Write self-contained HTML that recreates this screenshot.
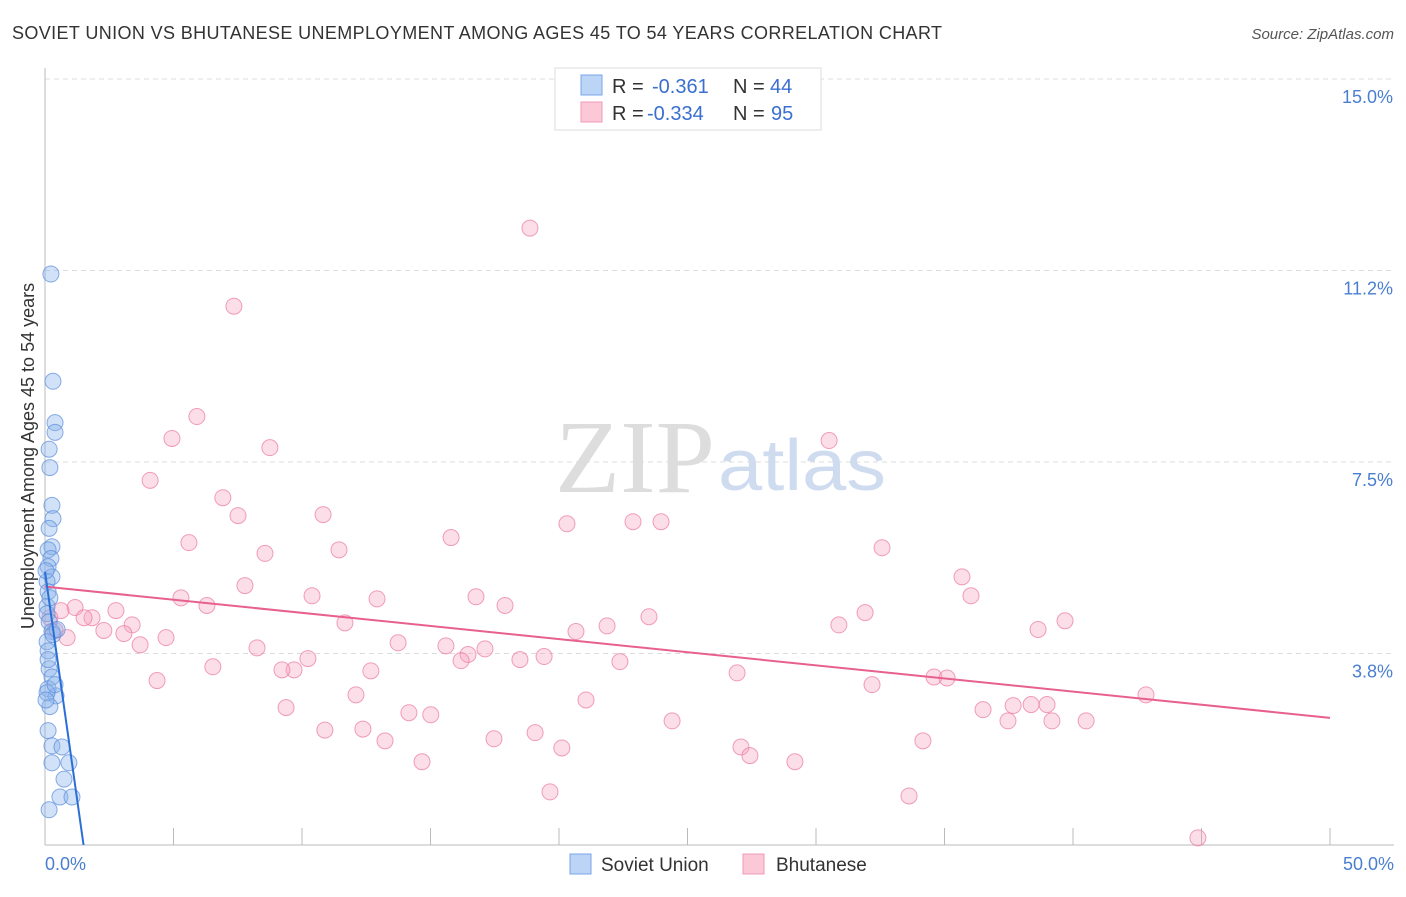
<!DOCTYPE html>
<html><head><meta charset="utf-8"><style>
body{margin:0;background:#fff;font-family:"Liberation Sans",sans-serif;}
svg text{font-family:"Liberation Sans",sans-serif;}
</style></head><body>
<svg id="chart" width="1406" height="892">
<text x="12" y="39" font-size="18" fill="#333" textLength="930">SOVIET UNION VS BHUTANESE UNEMPLOYMENT AMONG AGES 45 TO 54 YEARS CORRELATION CHART</text>
<text x="1394" y="39" font-size="15" fill="#555" font-style="italic" text-anchor="end">Source: ZipAtlas.com</text>
<g id="grid"></g>
<text x="555" y="492" font-size="104" fill="#ddd" style="font-family:'Liberation Serif',serif" textLength="160" lengthAdjust="spacingAndGlyphs">ZIP</text>
<text x="718" y="490" font-size="72" fill="#cfdcf0" textLength="168" lengthAdjust="spacingAndGlyphs">atlas</text>
<line x1="45" y1="68" x2="45" y2="845" stroke="#bbb"/>
<line x1="45" y1="845" x2="1394" y2="845" stroke="#bbb"/>
<g id="xticks"></g>
<g id="pts"></g>
<g id="trend"></g>
<text transform="translate(34,456) rotate(-90)" font-size="18" fill="#333" text-anchor="middle">Unemployment Among Ages 45 to 54 years</text>
<text x="45" y="870" font-size="18" fill="#4a7fd0">0.0%</text>
<text x="1394" y="870" font-size="18" fill="#4a7fd0" text-anchor="end">50.0%</text>
<g>
<rect x="555" y="68" width="266" height="62" fill="#fff" stroke="#ddd"/>
<rect x="581" y="75" width="21" height="20" fill="#bcd4f5" stroke="#7aa5e8"/>
<rect x="581" y="102" width="21" height="20" fill="#bcd4f5" stroke="#7aa5e8" style="fill:#fbc8d8;stroke:#f09ab5"/>
<text x="612" y="93" font-size="20" fill="#333">R =</text>
<text x="652" y="93" font-size="20" fill="#3a6fd0">-0.361</text>
<text x="733" y="93" font-size="20" fill="#333">N =</text>
<text x="770" y="93" font-size="20" fill="#3a6fd0">44</text>
<text x="612" y="120" font-size="20" fill="#333">R =</text>
<text x="647" y="120" font-size="20" fill="#3a6fd0">-0.334</text>
<text x="733" y="120" font-size="20" fill="#333">N =</text>
<text x="771" y="120" font-size="20" fill="#3a6fd0">95</text>
</g>
<g>
<rect x="570" y="854" width="21" height="20" fill="#bcd4f5" stroke="#7aa5e8"/>
<text x="601" y="871" font-size="19" fill="#333">Soviet Union</text>
<rect x="743" y="854" width="21" height="20" fill="#fbc8d8" stroke="#f09ab5"/>
<text x="776" y="871" font-size="19" fill="#333">Bhutanese</text>
</g>
</svg>
<script>
const yTicks=[15.0,11.25,7.5,3.75];
const yTickLabels=["15.0%","11.2%","7.5%","3.8%"];
const xTickVals=[0,5,10,15,20,25,30,35,40,45,50];
const sovietX=[0.23,0.31,0.39,0.39,0.16,0.19,0.27,0.31,0.16,0.27,0.12,0.23,0.12,0.27,0.08,0.12,0.08,0.08,0.16,0.27,0.08,0.12,0.16,0.27,0.12,0.43,0.19,0.12,0.27,0.66,0.27,0.93,0.74,0.58,1.05,0.16,0.08,0.12,0.04,0.31,0.47,0.19,0.04,0.39];
const sovietY=[11.18,9.08,8.27,8.08,7.75,7.39,6.65,6.39,6.2,5.84,5.78,5.61,5.45,5.25,5.16,4.96,4.67,4.53,4.37,4.18,3.98,3.8,3.45,3.29,3.06,2.92,2.71,2.24,1.94,1.92,1.61,1.61,1.29,0.94,0.94,0.69,2.98,3.63,2.84,4.12,4.22,4.84,5.37,3.14];
const bhutanX=[18.87,7.35,5.91,4.94,8.75,30.51,4.09,6.92,7.51,10.82,15.8,20.31,22.88,23.97,5.6,8.56,11.44,32.57,7.78,35.68,5.29,10.39,12.92,16.77,17.9,36.03,6.3,31.91,23.5,2.76,1.83,1.17,3.39,11.67,21.87,30.89,39.69,38.64,20.66,2.29,3.07,0.39,0.86,4.71,3.7,8.25,13.74,15.6,17.12,16.46,16.19,18.48,19.42,22.37,10.23,9.69,9.22,6.53,12.68,4.36,26.93,34.59,35.1,32.18,12.1,21.05,9.38,14.16,15.01,36.5,37.67,38.37,38.99,42.84,10.89,12.37,13.23,17.47,19.07,24.4,37.47,39.18,40.51,20.11,27.08,27.43,34.16,14.67,29.18,19.65,33.62,44.86,0.62,0.19,1.52];
const bhutanY=[12.08,10.55,8.39,7.96,7.78,7.92,7.14,6.8,6.45,6.47,6.02,6.29,6.33,6.33,5.92,5.71,5.78,5.82,5.08,5.25,4.84,4.88,4.82,4.86,4.69,4.88,4.69,4.55,4.47,4.59,4.45,4.65,4.31,4.35,4.29,4.31,4.39,4.22,4.18,4.2,4.14,4.2,4.06,4.06,3.92,3.86,3.96,3.9,3.84,3.73,3.61,3.63,3.69,3.59,3.65,3.43,3.43,3.49,3.41,3.22,3.37,3.29,3.27,3.14,2.94,2.84,2.69,2.59,2.55,2.65,2.73,2.75,2.75,2.94,2.25,2.27,2.04,2.08,2.2,2.43,2.43,2.43,2.43,1.9,1.92,1.75,2.04,1.63,1.63,1.04,0.96,0.14,4.59,4.45,4.45];
const trendSoviet=[[0,5.35],[1.5,0]];
const trendBhutan=[[0,5.06],[50,2.49]];
const X=v=>45+v*25.7, Y=v=>845-v*51.07;
const NS="http://www.w3.org/2000/svg";
function mk(t,a,p){const e=document.createElementNS(NS,t);for(const k in a)e.setAttribute(k,a[k]);p.appendChild(e);return e;}
const grid=document.getElementById('grid');
yTicks.forEach((v,i)=>{
 const l=mk('line',{x1:45,x2:1394,y1:Y(v),y2:Y(v),stroke:'#ddd','stroke-dasharray':'5,4'},grid);
 
 
 const t=mk('text',{x:1393,y:Y(v)+24,'font-size':18,fill:'#4a7fd0','text-anchor':'end'},grid);
 t.textContent=yTickLabels[i];
 
 
});
const xt=document.getElementById('xticks');
xTickVals.forEach(v=>{
 const l=mk('line',{x1:X(v),x2:X(v),y1:828,y2:845,stroke:'#bbb'},xt);
 
 
});
const pts=document.getElementById('pts');
bhutanX.forEach((x,i)=>{
 const c=mk('circle',{cx:X(x),cy:Y(bhutanY[i]),r:8,fill:'rgba(246,160,190,0.35)',stroke:'rgba(235,120,160,0.7)'},pts);
 
 
});
sovietX.forEach((x,i)=>{
 const c=mk('circle',{cx:X(x),cy:Y(sovietY[i]),r:8,fill:'rgba(140,180,235,0.4)',stroke:'rgba(90,140,220,0.7)'},pts);
 
 
});
const tr=document.getElementById('trend');
const a=mk('line',{x1:X(trendBhutan[0][0]),y1:Y(trendBhutan[0][1]),x2:X(trendBhutan[1][0]),y2:Y(trendBhutan[1][1]),stroke:'#e8608c','stroke-width':2},tr);


const b=mk('line',{x1:X(trendSoviet[0][0]),y1:Y(trendSoviet[0][1]),x2:X(trendSoviet[1][0]),y2:Y(trendSoviet[1][1]),stroke:'#2a6fd6','stroke-width':2},tr);


</script>
</body></html>
